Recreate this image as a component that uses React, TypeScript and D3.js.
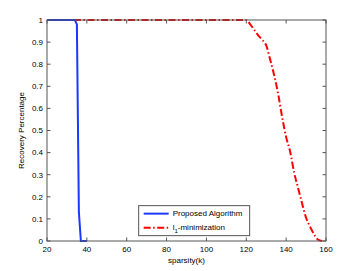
import { useEffect, useRef } from 'react';
import * as d3 from 'd3';

interface Punto {
  k: number;
  valor: number;
}

// Datos
const sparsityPropuesto = [20, 30, 34, 35, 36, 37, 38, 40];
const recuperacionPropuesto = [1, 1, 1, 0.98, 0.13, 0, 0, 0];

const sparsityL1 = [20, 40, 60, 80, 100, 118, 120, 122, 124, 126, 128, 130, 132, 134, 136, 138, 140, 142, 144, 146, 148, 150, 152, 154, 156, 158];
const recuperacionL1 = [1, 1, 1, 1, 1, 1, 1, 0.98, 0.955, 0.93, 0.91, 0.885, 0.82, 0.75, 0.665, 0.56, 0.47, 0.405, 0.31, 0.24, 0.17, 0.105, 0.065, 0.03, 0.006, 0];

const xTicks = [20, 40, 60, 80, 100, 120, 140, 160];
const yTicks = [0, 0.1, 0.2, 0.3, 0.4, 0.5, 0.6, 0.7, 0.8, 0.9, 1];

const serieNombres = ['Proposed Algorithm', 'l1-minimization'];

const App = () => {
  const svgRef = useRef<SVGSVGElement>(null);

  useEffect(() => {
    if (!svgRef.current) return;

    // Limpiar el SVG
    d3.select(svgRef.current).selectAll('*').remove();

    const ancho = 360;
    const alto = 271;
    const margin = { top: 20, right: 34, bottom: 30, left: 47 };
    const width = ancho - margin.left - margin.right;
    const height = alto - margin.top - margin.bottom;

    const svg = d3.select(svgRef.current)
      .attr('width', ancho)
      .attr('height', alto)
      .append('g')
      .attr('transform', `translate(${margin.left},${margin.top})`)
      .attr('font-family', 'Liberation Sans, Arial, sans-serif')
      .attr('font-size', 8);

    // Escalas
    const xScale = d3.scaleLinear().domain([20, 160]).range([0, width]);
    const yScale = d3.scaleLinear().domain([0, 1]).range([height, 0]);

    const propuesto: Punto[] = sparsityPropuesto.map((k, i) => ({ k, valor: recuperacionPropuesto[i] }));
    const l1: Punto[] = sparsityL1.map((k, i) => ({ k, valor: recuperacionL1[i] }));

    const line = d3.line<Punto>()
      .x(d => xScale(d.k))
      .y(d => yScale(d.valor));

    const lineSuave = d3.line<Punto>()
      .x(d => xScale(d.k))
      .y(d => yScale(d.valor))
      .curve(d3.curveMonotoneX);

    const colorAzul = '#1a38ff';
    const colorRojo = '#ff0000';
    const dashRojo = '7,2.5,1.5,2.5';
    const colorEje = '#555';

    // Líneas
    svg.append('path')
      .datum(l1)
      .attr('fill', 'none')
      .attr('stroke', colorRojo)
      .attr('stroke-width', 2)
      .attr('stroke-dasharray', dashRojo)
      .attr('d', lineSuave);

    svg.append('path')
      .datum(propuesto)
      .attr('fill', 'none')
      .attr('stroke', colorAzul)
      .attr('stroke-width', 2)
      .attr('d', line);

    // Caja y marcas
    svg.append('rect')
      .attr('x', 0)
      .attr('y', 0)
      .attr('width', width)
      .attr('height', height)
      .attr('fill', 'none')
      .attr('stroke', colorEje)
      .attr('stroke-width', 1);

    const tick = 3.5;
    xTicks.forEach(t => {
      const x = xScale(t);
      svg.append('line').attr('x1', x).attr('x2', x).attr('y1', height).attr('y2', height - tick).attr('stroke', colorEje);
      svg.append('line').attr('x1', x).attr('x2', x).attr('y1', 0).attr('y2', tick).attr('stroke', colorEje);
      svg.append('text')
        .attr('x', x)
        .attr('y', height + 11)
        .attr('text-anchor', 'middle')
        .attr('fill', '#000')
        .text(t);
    });

    yTicks.forEach(t => {
      const y = yScale(t);
      svg.append('line').attr('x1', 0).attr('x2', tick).attr('y1', y).attr('y2', y).attr('stroke', colorEje);
      svg.append('line').attr('x1', width).attr('x2', width - tick).attr('y1', y).attr('y2', y).attr('stroke', colorEje);
      svg.append('text')
        .attr('x', -4)
        .attr('y', y)
        .attr('dy', '0.35em')
        .attr('text-anchor', 'end')
        .attr('fill', '#000')
        .text(t);
    });

    // Etiquetas de ejes
    svg.append('text')
      .attr('x', width / 2)
      .attr('y', height + 22)
      .attr('text-anchor', 'middle')
      .text('sparsity(k)');

    svg.append('text')
      .attr('transform', `translate(${-23},${height / 2}) rotate(-90)`)
      .attr('text-anchor', 'middle')
      .text('Recovery Percentage');

    // Leyenda
    const lx = xScale(66);
    const ly = yScale(0.16);
    const legend = svg.append('g').attr('transform', `translate(${lx},${ly})`);

    legend.append('rect')
      .attr('width', 111)
      .attr('height', 30)
      .attr('fill', '#fff')
      .attr('stroke', colorEje);

    legend.selectAll('g.item')
      .data(serieNombres)
      .enter().append('g')
      .attr('class', 'item')
      .attr('transform', (d, i) => `translate(0,${8 + i * 14})`)
      .each(function (d, i) {
        const g = d3.select(this);
        g.append('line')
          .attr('x1', 5)
          .attr('x2', 30)
          .attr('y1', 0)
          .attr('y2', 0)
          .attr('stroke', i === 0 ? colorAzul : colorRojo)
          .attr('stroke-width', 2)
          .attr('stroke-dasharray', i === 0 ? null : dashRojo);
        const txt = g.append('text').attr('x', 34).attr('dy', '0.35em');
        if (i === 0) {
          txt.text(d);
        } else {
          txt.append('tspan').text('l');
          txt.append('tspan').attr('font-size', 6).attr('dy', 3).text('1');
          txt.append('tspan').attr('dy', -3).text('-minimization');
        }
      });
  }, []);

  return <svg ref={svgRef} style={{ position: 'absolute', left: 0, top: 0, background: '#fff' }} />;
};

export default App;
